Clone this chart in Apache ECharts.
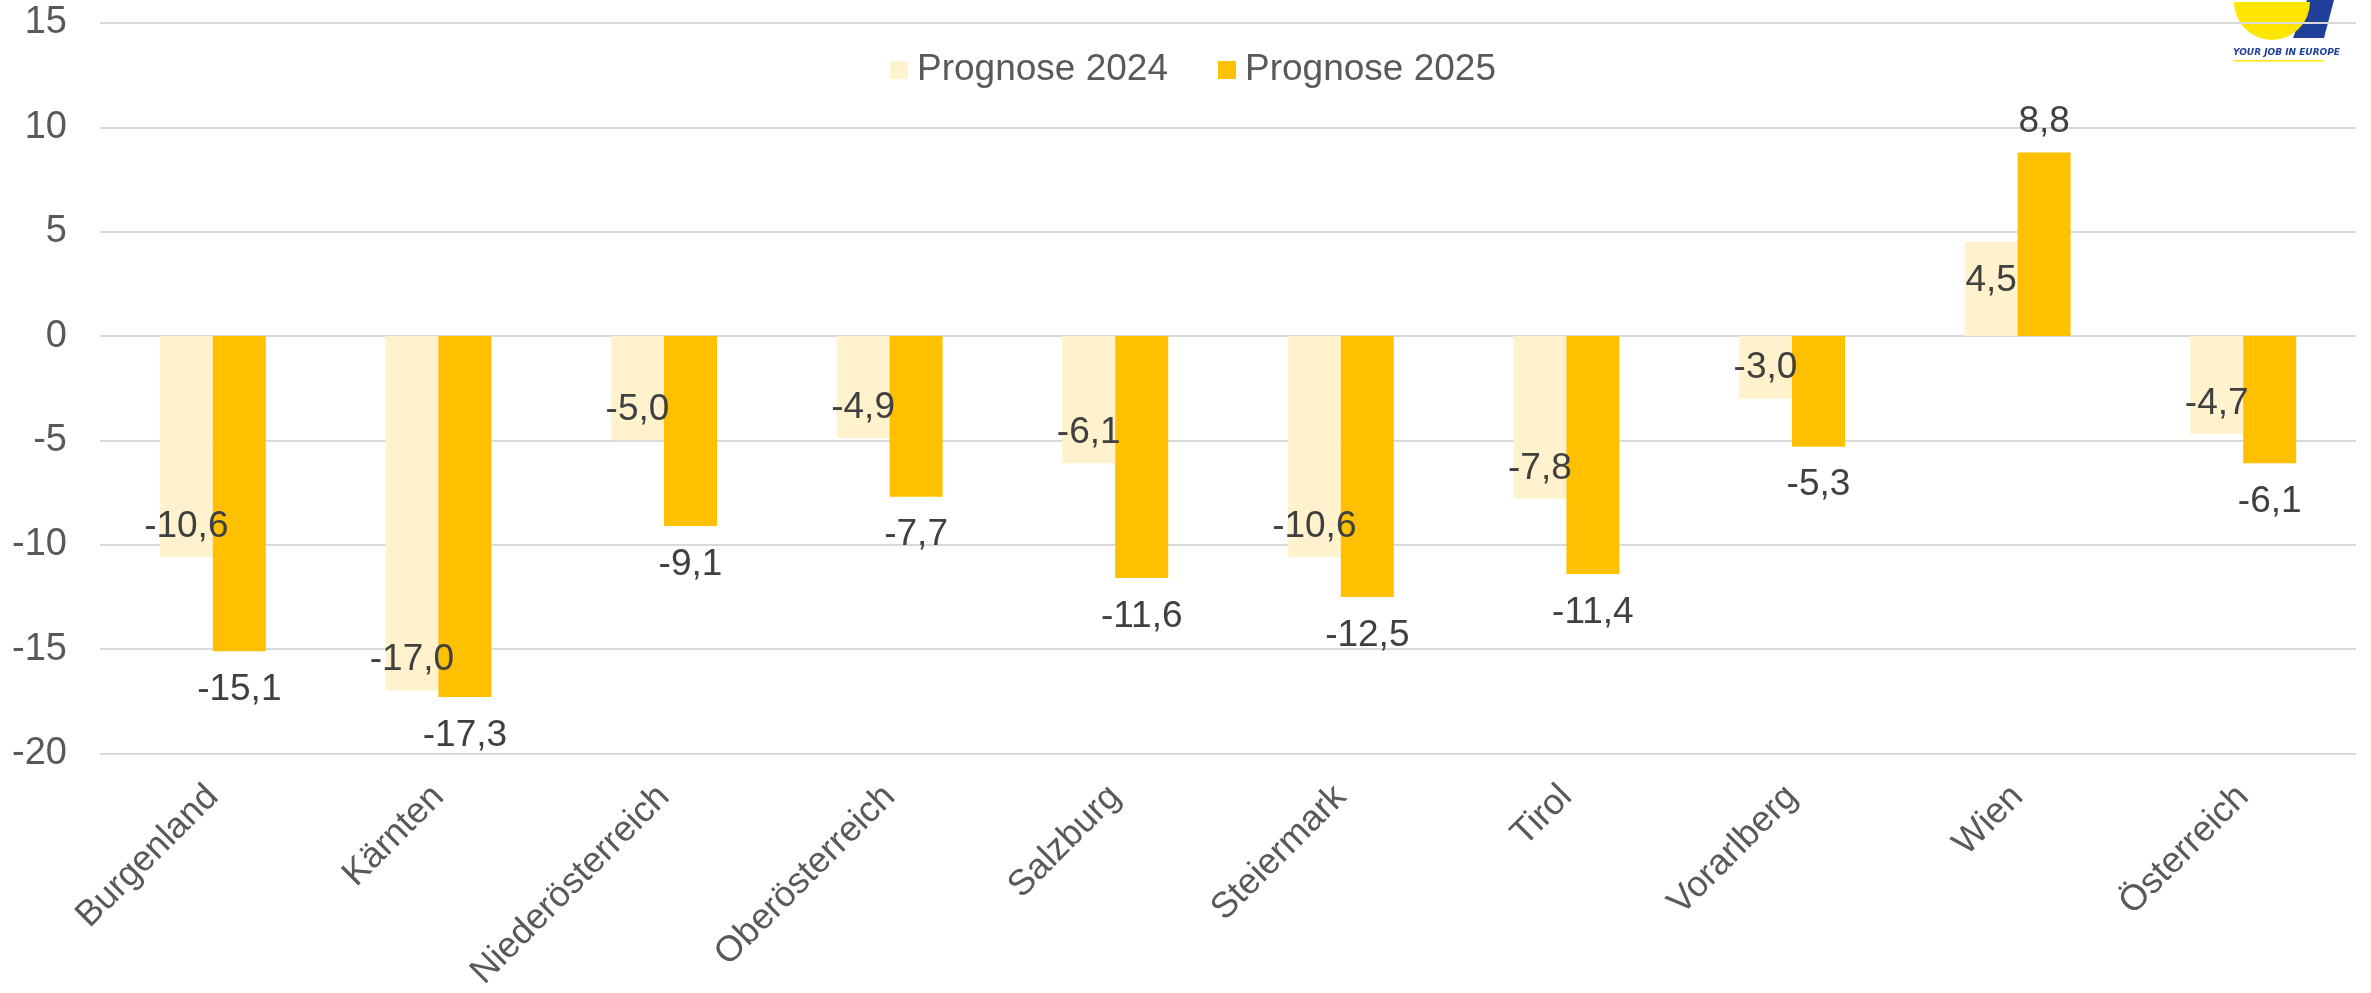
<!DOCTYPE html>
<html>
<head>
<meta charset="utf-8">
<script src="https://cdn.jsdelivr.net/npm/echarts@6/dist/echarts.min.js"></script>
<style>
html, body { margin: 0; padding: 0; background: #fff; }
#chart { width: 2371px; height: 993px; }
</style>
</head>
<body>
<div id="chart"></div>
<script>
// Kategorien und Werte
const categories = ['Burgenland', 'Kärnten', 'Niederösterreich', 'Oberösterreich', 'Salzburg',
    'Steiermark', 'Tirol', 'Vorarlberg', 'Wien', 'Österreich'];
const prognose2024 = [-10.6, -17.0, -5.0, -4.9, -6.1, -10.6, -7.8, -3.0, 4.5, -4.7];
const prognose2025 = [-15.1, -17.3, -9.1, -7.7, -11.6, -12.5, -11.4, -5.3, 8.8, -6.1];
const seriesNames = ['Prognose 2024', 'Prognose 2025'];
const yMin = -20, yMax = 15, yStep = 5;

const FONT = '"Liberation Sans", Arial, sans-serif';
const fmt = (p) => p.value.toFixed(1).replace('.', ',');

const chart = echarts.init(document.getElementById('chart'));

const option = {
    animation: false,
    backgroundColor: '#ffffff',
    textStyle: { fontFamily: FONT },
    legend: {
        data: seriesNames,
        left: 885,
        top: 45,
        icon: 'rect',
        itemWidth: 18,
        itemHeight: 18,
        itemGap: 50,
        textStyle: { fontSize: 37, color: '#595959', fontFamily: FONT, lineHeight: 40, padding: [0, 0, 0, 4] }
    },
    grid: { left: 100, right: 15, top: 23, bottom: 238 },
    xAxis: {
        type: 'category',
        data: categories,
        axisLine: { show: false },
        axisTick: { show: false },
        axisLabel: {
            interval: 0,
            rotate: 45,
            margin: 38,
            fontSize: 36,
            color: '#595959',
            fontFamily: FONT
        }
    },
    yAxis: {
        type: 'value',
        min: yMin,
        max: yMax,
        interval: yStep,
        axisLine: { show: false },
        axisTick: { show: false },
        axisLabel: { fontSize: 38, color: '#595959', margin: 33, fontFamily: FONT },
        splitLine: { lineStyle: { color: '#d9d9d9', width: 2 } }
    },
    series: [
        {
            name: seriesNames[0],
            type: 'bar',
            barWidth: 53,
            barGap: '0%',
            itemStyle: { color: '#FFF2CC' },
            label: { show: true, formatter: fmt, fontSize: 37, color: '#404040', fontFamily: FONT },
            // Beschriftung innen am Balkenende
            data: prognose2024.map(v => ({
                value: v,
                label: v < 0 ? { position: 'insideBottom', distance: 12 } : { position: 'insideTop', distance: 20 }
            }))
        },
        {
            name: seriesNames[1],
            type: 'bar',
            barWidth: 53,
            barGap: '0%',
            itemStyle: { color: '#FFC000' },
            label: { show: true, formatter: fmt, fontSize: 37, color: '#404040', fontFamily: FONT },
            // Beschriftung außen am Balkenende
            data: prognose2025.map(v => ({
                value: v,
                label: v < 0 ? { position: 'bottom', distance: 20 } : { position: 'top', distance: 12 }
            }))
        }
    ],
    // kleines Logo oben rechts (nachgezeichnet)
    graphic: {
        elements: [
            {
                type: 'polygon',
                z: -10,
                shape: { points: [[2307, 0], [2334, 0], [2324, 38], [2293, 38]] },
                style: { fill: '#1f3f99' }
            },
            {
                type: 'sector',
                z: -9,
                shape: { cx: 2272, cy: 2, r: 38, startAngle: 0, endAngle: Math.PI },
                style: { fill: '#ffe600' }
            },
            {
                type: 'text',
                z: -9,
                left: 2233,
                top: 48,
                style: { text: 'YOUR JOB IN EUROPE', font: 'italic bold 9px "DejaVu Sans", sans-serif', fill: '#1f3f99' }
            },
            {
                type: 'rect',
                z: -9,
                shape: { x: 2233, y: 60, width: 90, height: 1.5 },
                style: { fill: '#ffe600' }
            }
        ]
    }
};

chart.setOption(option);

window.addEventListener('resize', () => {
    chart.resize();
});
</script>
</body>
</html>
